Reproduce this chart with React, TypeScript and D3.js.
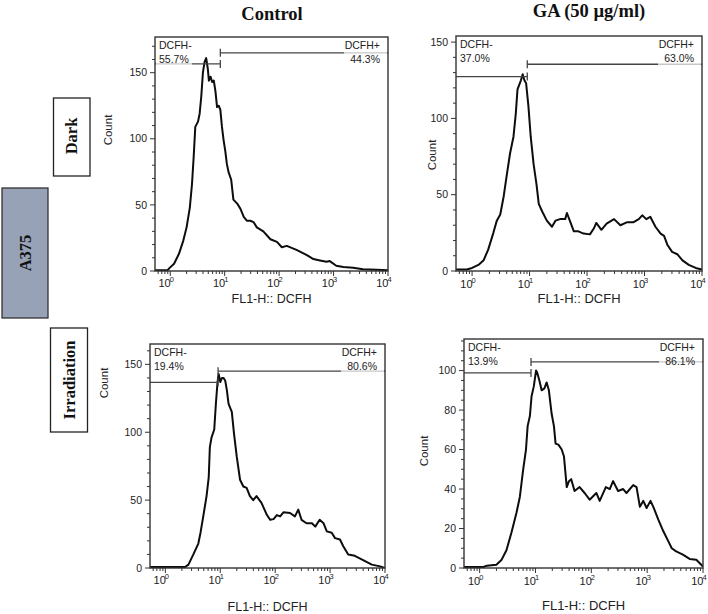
import React from 'react';
import * as d3 from 'd3';

// ---------- data ----------
const columnTitles = ['Control', 'GA (50 µg/ml)'];
const rowLabels = ['Dark', 'Irradiation'];
const cellLine = 'A375';
const xAxisTitle = 'FL1-H:: DCFH';
const yAxisTitle = 'Count';
const gateNegName = 'DCFH-';
const gatePosName = 'DCFH+';

// histograms: [log10(FL1-H), count]
const controlDark: [number, number][] = [
  [-0.28, 0.5], [-0.05, 0.5], [-0.02, 2], [0.07, 5.5], [0.16, 13], [0.24, 23], [0.3, 33], [0.36, 48],
  [0.4, 66], [0.43, 86], [0.46, 109], [0.51, 113], [0.54, 119], [0.57, 132], [0.6, 150], [0.63, 158],
  [0.66, 161], [0.69, 153], [0.71, 144], [0.74, 147], [0.77, 143], [0.8, 144], [0.83, 136], [0.86, 124],
  [0.89, 125], [0.92, 122], [0.95, 109], [0.98, 99], [1.01, 91], [1.04, 81], [1.07, 75], [1.12, 69],
  [1.16, 54], [1.23, 51], [1.29, 47], [1.35, 41], [1.41, 38], [1.47, 38], [1.53, 37], [1.59, 33],
  [1.71, 30], [1.84, 24], [1.96, 22], [2.05, 18], [2.14, 19], [2.32, 16], [2.51, 12], [2.63, 9],
  [2.75, 8], [2.87, 7], [2.93, 7.5], [3.05, 4], [3.18, 3], [3.36, 2.5], [3.54, 1.3], [3.79, 1], [4.0, 0.5],
];
const gaDark: [number, number][] = [
  [-0.28, 1], [-0.09, 1], [0, 2], [0.11, 4], [0.2, 7], [0.28, 14], [0.37, 25], [0.43, 33], [0.49, 37],
  [0.55, 49], [0.6, 62], [0.66, 77], [0.72, 88], [0.76, 103], [0.79, 119], [0.83, 123], [0.85, 125],
  [0.88, 129], [0.91, 125], [0.94, 123], [0.98, 108], [1.02, 88], [1.07, 70], [1.12, 57], [1.16, 44],
  [1.22, 39], [1.3, 33], [1.39, 29], [1.45, 33], [1.53, 34], [1.62, 34], [1.65, 38], [1.71, 32],
  [1.77, 26], [1.85, 26], [1.94, 24.5], [2.05, 24], [2.12, 28], [2.16, 31.5], [2.25, 27], [2.34, 31],
  [2.47, 34], [2.58, 30], [2.7, 32], [2.81, 32], [2.9, 34], [2.96, 36.5], [3.03, 34], [3.1, 35.5],
  [3.19, 29], [3.28, 24.5], [3.34, 23], [3.4, 17], [3.48, 12.5], [3.57, 11], [3.66, 7], [3.77, 4],
  [3.89, 2], [4.0, 1],
];
const controlIrradiation: [number, number][] = [
  [-0.28, 0.7], [0.36, 0.7], [0.42, 2.5], [0.51, 10], [0.6, 18], [0.64, 26], [0.69, 38], [0.75, 53],
  [0.79, 67], [0.81, 89], [0.84, 96], [0.89, 102], [0.92, 121], [0.95, 137], [0.97, 143], [1.0, 137],
  [1.03, 140], [1.06, 140], [1.09, 138], [1.12, 131], [1.15, 121], [1.18, 118], [1.21, 115], [1.25, 99],
  [1.3, 82], [1.36, 65], [1.42, 60], [1.48, 59], [1.54, 53], [1.6, 50], [1.66, 53], [1.75, 48],
  [1.85, 39], [1.91, 35.5], [1.97, 36], [2.03, 39], [2.09, 38], [2.15, 41], [2.27, 40.5], [2.36, 38],
  [2.42, 43], [2.48, 35.5], [2.57, 33], [2.67, 33], [2.73, 30.5], [2.81, 35.5], [2.88, 33], [2.94, 27],
  [3.03, 26], [3.09, 22], [3.18, 21], [3.24, 16], [3.33, 10], [3.45, 9], [3.61, 5.6], [3.76, 2.5],
  [3.91, 1.2], [4.0, 0],
];
const gaIrradiation: [number, number][] = [
  [-0.28, 0.5], [0.07, 0.5], [0.13, 1.2], [0.3, 1.7], [0.39, 4], [0.48, 9], [0.57, 18], [0.66, 28],
  [0.72, 36], [0.78, 50], [0.83, 60], [0.86, 72], [0.9, 77], [0.93, 87], [0.97, 92], [1.01, 100],
  [1.03, 99], [1.07, 95], [1.11, 90], [1.16, 91], [1.2, 94], [1.24, 90], [1.29, 78], [1.33, 72],
  [1.36, 63], [1.41, 62.5], [1.47, 60], [1.51, 56.5], [1.56, 41], [1.6, 44], [1.64, 45], [1.7, 39],
  [1.79, 41], [1.88, 38], [1.97, 34.6], [2.09, 38], [2.15, 34], [2.26, 41], [2.33, 40], [2.39, 44],
  [2.48, 39], [2.57, 40], [2.63, 38], [2.75, 42], [2.81, 41], [2.87, 31], [2.93, 34], [2.99, 30.4],
  [3.06, 34], [3.11, 31], [3.2, 24.5], [3.29, 18.6], [3.38, 13.5], [3.44, 10], [3.52, 8.4], [3.64, 6.8],
  [3.76, 4.6], [3.88, 4.2], [4.0, 0.8],
];

const histograms = [controlDark, gaDark, controlIrradiation, gaIrradiation];
const gateNegPercent = ['55.7%', '37.0%', '19.4%', '13.9%'];
const gatePosPercent = ['44.3%', '63.0%', '80.6%', '86.1%'];
const gateBoundaryLog = [0.92, 0.96, 0.96, 0.92];
const gateNegLevel = [156.6, 127.4, 136.8, 98.8];
const gatePosLevel = [165, 135.5, 145, 104.4];
const yMaxValues = [177, 154, 165, 116];
const yMajorTicks = [
  [0, 50, 100, 150],
  [0, 50, 100, 150],
  [0, 50, 100, 150],
  [0, 20, 40, 60, 80, 100],
];
const yMinorStep = [10, 10, 10, 5];
const xLogMin = -0.28;
const xDecades = [0, 1, 2, 3, 4];

// ---------- layout ----------
const panels = [
  { l: 155, r: 388, t: 37, b: 271, cx: 108, cy: 130, xlabY: 303, tickY: 287, xfs: 12.5 },
  { l: 456, r: 702, t: 36, b: 271, cx: 432, cy: 155, xlabY: 303, tickY: 288, xfs: 13 },
  { l: 150, r: 385, t: 344, b: 568, cx: 104, cy: 383, xlabY: 611, tickY: 584, xfs: 12.5 },
  { l: 464, r: 703, t: 339, b: 568, cx: 424, cy: 451, xlabY: 610, tickY: 585, xfs: 13 },
];

const SANS = '"Liberation Sans", Arial, sans-serif';
const SERIF = '"Liberation Serif", "Times New Roman", serif';

function Panel({ i }: { i: number }) {
  const p = panels[i];
  const x = d3.scaleLog().domain([Math.pow(10, xLogMin), 1e4]).range([p.l, p.r]);
  const y = d3.scaleLinear().domain([0, yMaxValues[i]]).range([p.b, p.t]);
  const line = d3
    .line<[number, number]>()
    .x((d) => x(Math.pow(10, d[0])))
    .y((d) => y(d[1]))
    .curve(d3.curveLinear);

  const minorX: number[] = [];
  for (let dec = -1; dec < 4; dec++) {
    for (let m = 2; m <= 9; m++) {
      const v = m * Math.pow(10, dec);
      if (v >= Math.pow(10, xLogMin) && v <= 1e4) minorX.push(v);
    }
  }
  const minorY: number[] = [];
  for (let v = 0; v <= yMaxValues[i]; v += yMinorStep[i]) {
    if (!yMajorTicks[i].includes(v)) minorY.push(v);
  }

  const gx = x(Math.pow(10, gateBoundaryLog[i]));
  const yNeg = y(gateNegLevel[i]);
  const yPos = y(gatePosLevel[i]);
  const fs = 10.5;
  const b1 = p.t + 12;
  const b2 = p.t + 26;
  const clipId = `clip${i}`;
  const negW = 36;
  const posW = 36;

  return (
    <g>
      <defs>
        <clipPath id={clipId}>
          <rect x={p.l} y={p.t} width={p.r - p.l} height={p.b - p.t} />
        </clipPath>
      </defs>
      {/* histogram */}
      <path
        d={line(histograms[i]) || ''}
        fill="none"
        stroke="#0d0d0d"
        strokeWidth={2}
        strokeLinejoin="round"
        clipPath={`url(#${clipId})`}
      />
      {/* gates */}
      <g stroke="#444" strokeWidth={1.3}>
        <line x1={p.l} x2={gx} y1={yNeg} y2={yNeg} />
        <line x1={gx} x2={gx} y1={yNeg - 4} y2={yNeg + 4} />
        <line x1={gx} x2={p.r} y1={yPos} y2={yPos} />
        <line x1={gx} x2={gx} y1={yPos - 4} y2={yPos + 4} />
      </g>
      {/* label backgrounds */}
      <rect x={p.l + 1} y={p.t + 2} width={negW} height={b2 - p.t + 2} fill="#fff" opacity={0.7} />
      <rect x={p.r - posW - 8} y={p.t + 2} width={posW + 7} height={b2 - p.t + 2} fill="#fff" opacity={0.7} />
      <g fontFamily={SANS} fontSize={fs} fill="#222">
        <text x={p.l + 4} y={b1}>{gateNegName}</text>
        <text x={p.l + 4} y={b2}>{gateNegPercent[i]}</text>
        <text x={p.r - 8} y={b1} textAnchor="end">{gatePosName}</text>
        <text x={p.r - 8} y={b2} textAnchor="end">{gatePosPercent[i]}</text>
      </g>
      {/* frame */}
      <rect x={p.l} y={p.t} width={p.r - p.l} height={p.b - p.t} fill="none" stroke="#333" strokeWidth={1.4} />
      {/* ticks */}
      <g stroke="#333" strokeWidth={1}>
        {xDecades.map((d) => (
          <line key={`M${d}`} x1={x(Math.pow(10, d))} x2={x(Math.pow(10, d))} y1={p.b} y2={p.b + 5} />
        ))}
        {minorX.map((v, k) => (
          <line key={`m${k}`} x1={x(v)} x2={x(v)} y1={p.b} y2={p.b + 3} />
        ))}
        {yMajorTicks[i].map((v) => (
          <line key={`Y${v}`} x1={p.l - 5} x2={p.l} y1={y(v)} y2={y(v)} />
        ))}
        {minorY.map((v) => (
          <line key={`y${v}`} x1={p.l - 3} x2={p.l} y1={y(v)} y2={y(v)} />
        ))}
      </g>
      <g fontFamily={SANS} fill="#222">
        {xDecades.map((d) => (
          <g key={`xl${d}`}>
            <text x={x(Math.pow(10, d)) + 0.5} y={p.tickY} textAnchor="end" fontSize={11}>
              10
            </text>
            <text x={x(Math.pow(10, d)) - 0.5} y={p.tickY - 5} textAnchor="start" fontSize={7.5}>
              {d}
            </text>
          </g>
        ))}
        {yMajorTicks[i].map((v) => (
          <text key={`yl${v}`} x={p.l - 8} y={y(v)} dy="0.35em" textAnchor="end" fontSize={10.5}>
            {v}
          </text>
        ))}
      </g>
      <text
        x={(p.l + p.r) / 2}
        y={p.xlabY}
        textAnchor="middle"
        fontFamily={SANS}
        fontSize={p.xfs}
        fill="#222"
      >
        {xAxisTitle}
      </text>
      <text
        transform={`translate(${p.cx},${p.cy}) rotate(-90)`}
        textAnchor="middle"
        dy="0.35em"
        fontFamily={SANS}
        fontSize={11.5}
        fill="#222"
      >
        {yAxisTitle}
      </text>
    </g>
  );
}

export default function App() {
  return (
    <svg
      width={708}
      height={614}
      style={{ position: 'absolute', left: 0, top: 0, background: '#fff' }}
    >
      <rect width={708} height={614} fill="#fff" />
      <g fontFamily={SERIF} fontWeight="bold" fontSize={18.5} fill="#111" textAnchor="middle">
        <text x={272} y={20}>{columnTitles[0]}</text>
        <text x={589} y={17}>{columnTitles[1]}</text>
      </g>
      {/* row labels */}
      <rect x={53.5} y={98} width={36.5} height={78} fill="#fff" stroke="#222" strokeWidth={1.3} />
      <text
        transform="translate(71.5,136) rotate(-90)"
        textAnchor="middle"
        dy="0.35em"
        fontFamily={SERIF}
        fontWeight="bold"
        fontSize={16.5}
        fill="#111"
      >
        {rowLabels[0]}
      </text>
      <rect x={2} y={188} width={46} height={130} fill="#98a2b6" stroke="#333" strokeWidth={1.3} />
      <text
        transform="translate(25,253) rotate(-90)"
        textAnchor="middle"
        dy="0.35em"
        fontFamily={SERIF}
        fontWeight="bold"
        fontSize={16.5}
        fill="#111"
      >
        {cellLine}
      </text>
      <rect x={50.5} y={328} width={37} height={104} fill="#fff" stroke="#222" strokeWidth={1.3} />
      <text
        transform="translate(69,380) rotate(-90)"
        textAnchor="middle"
        dy="0.35em"
        fontFamily={SERIF}
        fontWeight="bold"
        fontSize={16.5}
        fill="#111"
      >
        {rowLabels[1]}
      </text>
      {panels.map((_, i) => (
        <Panel key={i} i={i} />
      ))}
    </svg>
  );
}
